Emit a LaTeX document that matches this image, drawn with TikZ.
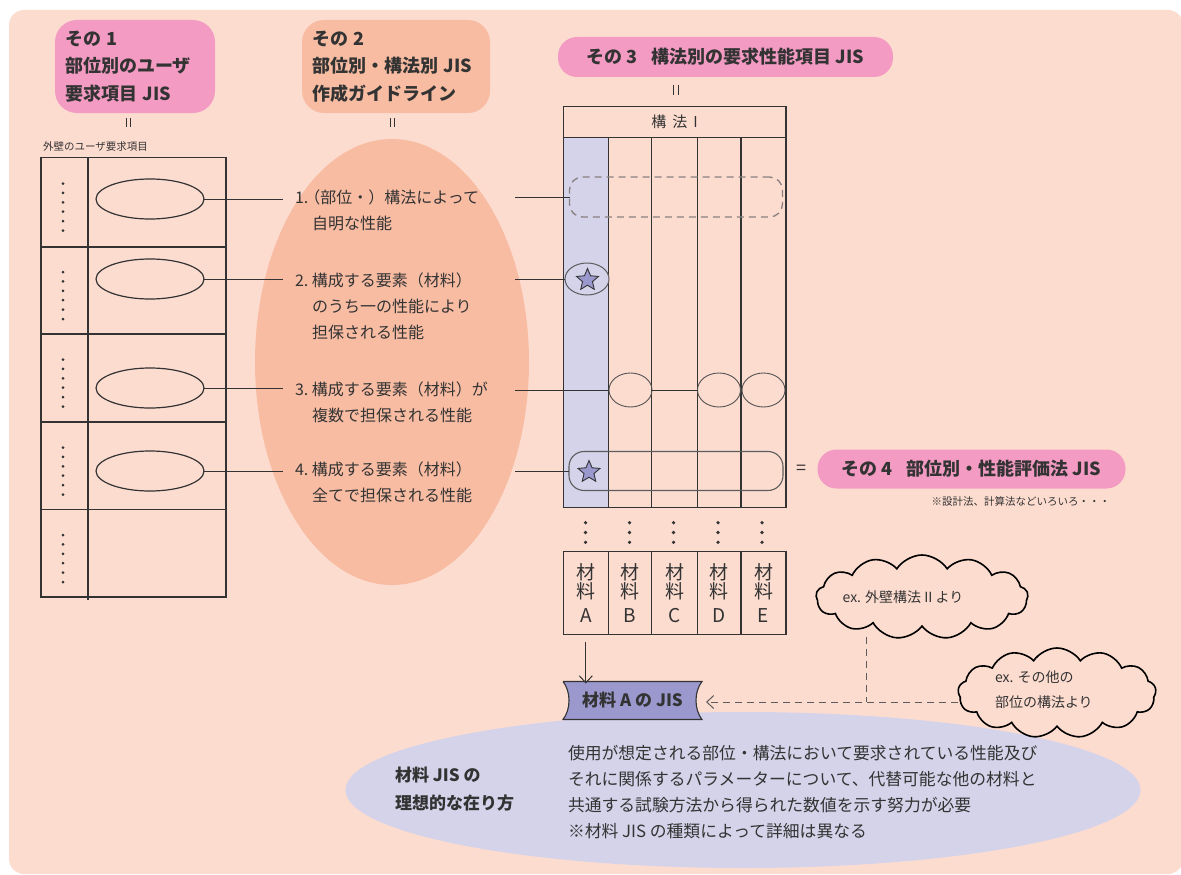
\documentclass[tikz,border=0pt]{standalone}
\usepackage{fontspec}
\setmainfont{Noto Sans CJK JP}
\usetikzlibrary{shapes.geometric,shapes.symbols,arrows.meta}
\definecolor{bgpeach}{HTML}{FDDCD0}
\definecolor{pinkbox}{HTML}{F39BC3}
\definecolor{salmon}{HTML}{F8BCA3}
\definecolor{lav}{HTML}{D4D3EA}
\definecolor{starblue}{HTML}{9B98CD}
\definecolor{ink}{HTML}{333333}
\definecolor{dashgray}{HTML}{8A8080}
\begin{document}
\begin{tikzpicture}[x=1pt,y=-1pt,
  every node/.style={inner sep=0pt,outer sep=0pt,text=ink},
  ln/.style={draw=ink,line width=1.1pt},
  headbox/.style={rounded corners=22pt,font=\bfseries\fontsize{18}{27.5}\selectfont,align=left},
  pillbox/.style={rounded corners=19pt,fill=pinkbox,font=\bfseries\fontsize{18}{22}\selectfont},
  ovalL/.style={ellipse,draw=ink,line width=1.2pt,minimum width=108pt,minimum height=40pt},
  ovalS/.style={ellipse,draw=ink!85,line width=0.9pt,minimum width=43pt,minimum height=34pt},
  itemtxt/.style={anchor=west,align=left,font=\fontsize{16}{26}\selectfont},
  starnode/.style={star,star points=5,star point ratio=2.2,minimum size=23pt,fill=starblue,draw=ink,line width=0.9pt},
  matcell/.style={draw=ink,line width=1.1pt,minimum width=44.5pt,minimum height=83pt,align=center,font=\fontsize{19}{19}\selectfont},
  cloudnode/.style={cloud,cloud puffs=13,cloud puff arc=115,aspect=2.4,draw=black,line width=1.6pt,fill=bgpeach},
  dotmark/.style={fill=ink},
  dashline/.style={draw=ink!80,line width=1pt,dash pattern=on 7pt off 5pt},
  barb/.style={-{Straight Barb[length=7pt,width=13pt,line width=1pt]}}
]
\useasboundingbox (0,0) rectangle (1181,875);
% background panel
\fill[bgpeach,rounded corners=15pt] (9,10) rectangle (1183,874);

% heading boxes
\node[headbox,fill=pinkbox,minimum width=160pt,minimum height=93pt,text width=140pt] (h1) at (135,66.5) {その 1\\部位別のユーザ\\要求項目 JIS};
\node[headbox,fill=salmon,minimum width=188pt,minimum height=93pt,text width=168pt] (h2) at (396,66.5) {その 2\\部位別・構法別 JIS\\作成ガイドライン};
\node[pillbox,minimum width=335pt,minimum height=40pt] (h3) at (725.5,57) {その 3\hspace{14pt}構法別の要求性能項目 JIS};
\node[pillbox,minimum width=308pt,minimum height=39pt] (h4) at (971.5,469) {その 4\hspace{14pt}部位別・性能評価法 JIS};

% equals marks
\draw[ln,line width=0.9pt] (126.7,118) -- (126.7,127) (130.7,118) -- (130.7,127);
\draw[ln,line width=0.9pt] (390.7,118) -- (390.7,127) (394.7,118) -- (394.7,127);
\draw[ln,line width=0.9pt] (673.5,85) -- (673.5,95) (678,85) -- (678,95);
\node[font=\fontsize{18}{18}\selectfont] (eq4) at (801,470) {=};

% left table
\node[anchor=west,font=\fontsize{10.5}{12}\selectfont] (ltitle) at (43,147) {外壁のユーザ要求項目};
\draw[ln] (41,157.5) rectangle (226,597);
\draw[ln] (88,157.5) -- (88,600);
\foreach \yy in {247,334,422,509.5} \draw[ln] (41,\yy) -- (226,\yy);
\foreach \c in {202,290.5,378,466,553.5}
  \foreach \k in {0,...,5} \fill[dotmark] (63,\c+5-23.5+\k*9.4) circle (1.5pt);

% big salmon ellipse
\node[ellipse,fill=salmon,minimum width=274pt,minimum height=446pt] (big) at (392,362) {};

% ellipses in left table and connectors
\foreach \i/\yy in {1/199,2/279,3/388,4/471}{
  \node[ovalL] (u\i) at (150,\yy) {};
  \coordinate (la\i) at (283,\yy);
  \draw[ln,line width=1pt] (u\i.east) -- (la\i);
}

% item texts
\node[itemtxt] (t1) at (295,210) {1.\hspace{-4pt}（部位・）構法によって\\\hspace*{17pt}自明な性能};
\node[itemtxt] (t2) at (295,306) {\makebox[17pt][l]{2.}構成する要素（材料）\\\hspace*{17pt}のうち一の性能により\\\hspace*{17pt}担保される性能};
\node[itemtxt] (t3) at (295,402) {\makebox[17pt][l]{3.}構成する要素（材料）が\\\hspace*{17pt}複数で担保される性能};
\node[itemtxt] (t4) at (295,482) {\makebox[17pt][l]{4.}構成する要素（材料）\\\hspace*{17pt}全てで担保される性能};

% right table
\fill[lav] (563.3,137.3) rectangle (608.3,507.7);
\draw[ln] (563.3,106.7) rectangle (786,507.7);
\draw[ln] (563.3,137.3) -- (786,137.3);
\foreach \xx in {608.3,651.7,697.3,741} \draw[ln] (\xx,137.3) -- (\xx,507.7);
\node[font=\fontsize{15}{15}\selectfont] (khead) at (674.5,122) {構\hspace{6pt}法\hspace{6pt}I};

% row marks
\node[draw=dashgray,line width=1.3pt,dash pattern=on 7pt off 5pt,rounded corners=13pt,minimum width=213pt,minimum height=40pt] (r1) at (676,197) {};
\node[ellipse,draw=ink!80,line width=1pt,fill=lav,minimum width=44pt,minimum height=32pt] (se2) at (587,279) {};
\node[starnode] (s2) at (587.5,280) {};
\node[ovalS] (eB) at (630.5,390) {};
\node[ovalS] (eD) at (719,390) {};
\node[ovalS] (eE) at (763.5,390) {};
\node[draw=ink!80,line width=1.1pt,rounded corners=15pt,minimum width=214pt,minimum height=39pt] (r4) at (676,471) {};
\node[starnode] (s4) at (589,472) {};

\foreach \i/\yy in {1/197,2/279,3/390,4/471} \coordinate (ra\i) at (515,\yy);
\draw[ln,line width=1pt] (ra1) -- (r1.west);
\draw[ln,line width=1pt] (ra2) -- (se2.west);
\draw[ln,line width=1pt] (ra3) -- (eB.west);
\draw[ln,line width=1pt] (eB.east) -- (eD.west);
\draw[ln,line width=1pt] (ra4) -- (r4.west);

\node[font=\fontsize{10.5}{12}\selectfont,anchor=east] (note4) at (1110,501) {※設計法、計算法などいろいろ・・・};

% dots below columns
\foreach \xx in {585.5,629.5,673.5,718,762}
  \foreach \yy in {522.7,532.5,542.3} \fill[dotmark] (\xx,\yy) circle (1.8pt);

% material cells
\node[matcell] (mA) at (585.8,593.3) {材\\料\\[5pt]A};
\node[matcell,minimum width=43.4pt] (mB) at (630,593.3) {材\\料\\[5pt]B};
\node[matcell,minimum width=45.6pt] (mC) at (674.5,593.3) {材\\料\\[5pt]C};
\node[matcell,minimum width=43.7pt] (mD) at (719.15,593.3) {材\\料\\[5pt]D};
\node[matcell,minimum width=45pt] (mE) at (763.5,593.3) {材\\料\\[5pt]E};

% ideal ellipse
\node[ellipse,fill=lav,minimum width=795pt,minimum height=156pt] (ideal) at (743,790) {};
\node[anchor=west,align=left,font=\bfseries\fontsize{17}{28}\selectfont] (idealT) at (395,789) {材料 JIS の\\理想的な在り方};
\node[anchor=west,align=left,font=\fontsize{16.8}{26}\selectfont] (idealB) at (568,792) {使用が想定される部位・構法において要求されている性能及び\\それに関係するパラメーターについて、代替可能な他の材料と\\共通する試験方法から得られた数値を示す努力が必要\\※材料 JIS の種類によって詳細は異なる};

% material A JIS banner
\node[minimum width=139pt,minimum height=38pt] (mjis) at (632.5,700.5) {};
\draw[fill=starblue,draw=ink,line width=1.1pt] (mjis.north west) -- (mjis.north east)
  .. controls ([xshift=-8pt,yshift=-10pt]mjis.north east) and ([xshift=-8pt,yshift=10pt]mjis.south east) .. (mjis.south east)
  -- (mjis.south west)
  .. controls ([xshift=8pt,yshift=10pt]mjis.south west) and ([xshift=8pt,yshift=-10pt]mjis.north west) .. (mjis.north west);
\node[font=\bfseries\fontsize{17}{17}\selectfont] (mjisT) at (632.5,700.5) {材料 A の JIS};

\draw[ln,line width=1pt,barb] ([yshift=-7pt]mA.south) -- ([yshift=-2pt]mA.south |- mjis.north);

% clouds
\node[cloudnode,minimum width=212pt,minimum height=84pt] (c1) at (922,597) {};
\node[font=\fontsize{14}{14}\selectfont] (c1t) at (903,597) {ex. 外壁構法 II より};
\node[cloudnode,minimum width=198pt,minimum height=90pt] (c2) at (1057,693) {};
\node[anchor=west,align=left,font=\fontsize{14}{25}\selectfont] (c2t) at (995,690) {ex. その他の\\部位の構法より};

% dashed references
\coordinate (J) at (866,702);
\coordinate (c1foot) at (866,637);
\draw[dashline] (c1foot) -- (J);
\draw[dashline,barb] (c2.west |- J) -- ([xshift=4pt]mjis.east |- J);
\end{tikzpicture}
\end{document}
